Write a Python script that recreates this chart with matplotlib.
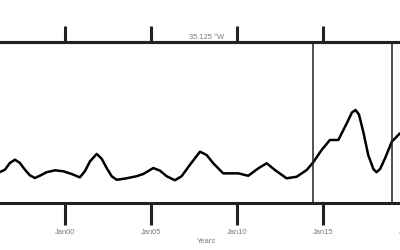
import matplotlib
matplotlib.use("Agg")
import matplotlib.pyplot as plt

# series (decimal years, arbitrary units)
years = [1996.22, 1996.51, 1996.80, 1997.09, 1997.38, 1997.67, 1997.96, 1998.25,
         1998.54, 1998.93, 1999.42, 1999.90, 2000.39, 2000.87, 2001.16, 2001.46,
         2001.85, 2002.14, 2002.43, 2002.72, 2003.01, 2003.49, 2004.17, 2004.56,
         2005.14, 2005.53, 2005.92, 2006.40, 2006.79, 2007.28, 2007.86, 2008.25,
         2008.63, 2009.21, 2009.80, 2010.09, 2010.67, 2011.25, 2011.74, 2012.22,
         2012.90, 2013.49, 2014.07, 2014.45, 2014.94, 2015.42, 2015.91, 2016.40,
         2016.70, 2016.91, 2017.11, 2017.36, 2017.65, 2017.95, 2018.13, 2018.34,
         2018.63, 2019.02, 2019.50]
values = [0.191, 0.206, 0.248, 0.268, 0.248, 0.206, 0.171, 0.154,
          0.168, 0.190, 0.202, 0.196, 0.179, 0.158, 0.196, 0.258,
          0.304, 0.274, 0.216, 0.165, 0.143, 0.150, 0.165, 0.179,
          0.216, 0.200, 0.165, 0.140, 0.165, 0.237, 0.318, 0.297,
          0.246, 0.183, 0.183, 0.183, 0.168, 0.214, 0.246, 0.204,
          0.152, 0.162, 0.204, 0.252, 0.329, 0.391, 0.391, 0.495,
          0.562, 0.578, 0.550, 0.443, 0.297, 0.210, 0.190, 0.210,
          0.277, 0.380, 0.433]

tick_years = [2000, 2005, 2010, 2015, 2020]
tick_labels = ["Jan00", "Jan05", "Jan10", "Jan15", "Jan20"]
window = [2014.41, 2019.01]
title = "35.125 \u00b0W"
xlabel = "Years"

plt.rcParams['font.family'] = ['Liberation Sans', 'DejaVu Sans']
txt_col = "#7a7a7a"
ax_col = "#222222"

fig = plt.figure(figsize=(4, 2.5), dpi=100)
# axes reach past the figure edges, the picture is a crop
ax = fig.add_axes([-21 / 400, 1 - 202.7 / 250, 446.8 / 400, 160.4 / 250])
ax.set_xlim(1995, 2021)
ax.set_ylim(0, 1)

ax.plot(years, values, color="black", lw=1.8, solid_joinstyle="round",
        solid_capstyle="round")
for xv in window:
    ax.axvline(xv, color=ax_col, lw=1.1)

for s in ["left", "right"]:
    ax.spines[s].set_visible(False)
for s in ["top", "bottom"]:
    ax.spines[s].set_linewidth(2.2)
    ax.spines[s].set_color(ax_col)

ax.set_yticks([])
ax.set_xticks(tick_years)
ax.set_xticklabels(tick_labels, fontsize=5.4, color=txt_col)
ax.tick_params(axis="x", direction="out", length=15.8, width=2.2,
               color=ax_col, pad=3)

top = ax.secondary_xaxis("top")
top.set_xticks(tick_years)
top.set_xticklabels([])
top.tick_params(direction="out", length=11.2, width=2.2, color=ax_col)
top.spines["top"].set_linewidth(2.2)
top.spines["top"].set_color(ax_col)

fig.text(206.5 / 400, 1 - 37.3 / 250, title, fontsize=5.4, color=txt_col,
         ha="center", va="center")
fig.text(206.5 / 400, 1 - 241.7 / 250, xlabel, fontsize=5.5, color=txt_col,
         ha="center", va="center")

fig.savefig("out.png", dpi=100)
